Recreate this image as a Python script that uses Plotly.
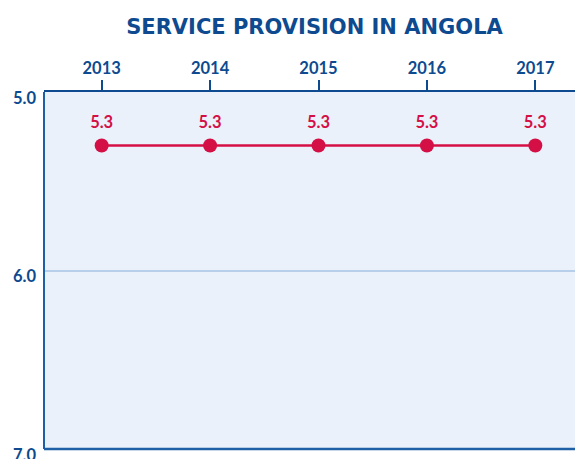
import plotly.graph_objects as go

years = ["2013", "2014", "2015", "2016", "2017"]
values = [5.3, 5.3, 5.3, 5.3, 5.3]
y_ticks = [5.0, 6.0, 7.0]
y_tick_labels = ["5.0", "6.0", "7.0"]

DARK = "#0d4a8f"
RED = "#d40f46"
FONT = "Lato"

xs = [int(y) for y in years]

W, H = 575, 459

fig = go.Figure()
fig.add_trace(go.Scatter(
    x=xs, y=values,
    mode="lines+markers",
    line=dict(color=RED, width=2.5),
    marker=dict(color=RED, size=14),
    cliponaxis=False,
    hoverinfo="skip",
))
# value labels (invisible larger marker sets the label offset)
fig.add_trace(go.Scatter(
    x=xs, y=values,
    mode="markers+text",
    marker=dict(color="rgba(0,0,0,0)", size=20),
    text=[f"{v:.1f}" for v in values],
    textposition="top center",
    textfont=dict(family=FONT, size=16.5, color=RED, weight="bold"),
    cliponaxis=False,
    hoverinfo="skip",
))

fig.update_layout(
    width=W, height=H,
    margin=dict(l=44, r=0, t=92, b=10, autoexpand=False),
    paper_bgcolor="white",
    plot_bgcolor="#eaf1fa",
    showlegend=False,
    title=dict(text="<b>SERVICE PROVISION IN ANGOLA</b>", x=314.5 / W, xanchor="center",
               y=1 - 27 / H, yanchor="middle",
               font=dict(family="DejaVu Sans", size=21, color=DARK)),
)
fig.update_xaxes(
    side="top", range=[2012.468, 2017.366],
    tickvals=xs, ticktext=years,
    ticks="outside", ticklen=10, tickwidth=1.5, tickcolor=DARK,
    tickfont=dict(family=FONT, size=16.5, color=DARK, weight="bold"),
    ticklabelstandoff=0,
    showgrid=False, showline=True, linecolor=DARK, linewidth=1.5,
    zeroline=False, fixedrange=True, automargin=False,
)
fig.update_yaxes(
    range=[7.0, 5.0], autorange=False,
    tickvals=y_ticks, ticktext=y_tick_labels,
    ticks="", ticklabelstandoff=7, ticklabelshift=-6,
    ticklabeloverflow="allow",
    tickfont=dict(family=FONT, size=16.5, color=DARK, weight="bold"),
    showgrid=True, gridcolor="#b7cfea", gridwidth=1.5,
    showline=False, zeroline=False, fixedrange=True, automargin=False,
)
# left and bottom border lines
fig.add_shape(type="line", xref="paper", yref="paper", x0=0, x1=0, y0=0, y1=1,
              line=dict(color="#1f5fa6", width=2))
fig.add_shape(type="line", xref="paper", yref="paper", x0=0, x1=1, y0=0, y1=0,
              line=dict(color="#1f5fa6", width=2.5))

fig.write_html(
    "out.html",
    config={"displayModeBar": False},
    post_script="document.body.style.margin='0';document.body.style.overflow='hidden';",
)
